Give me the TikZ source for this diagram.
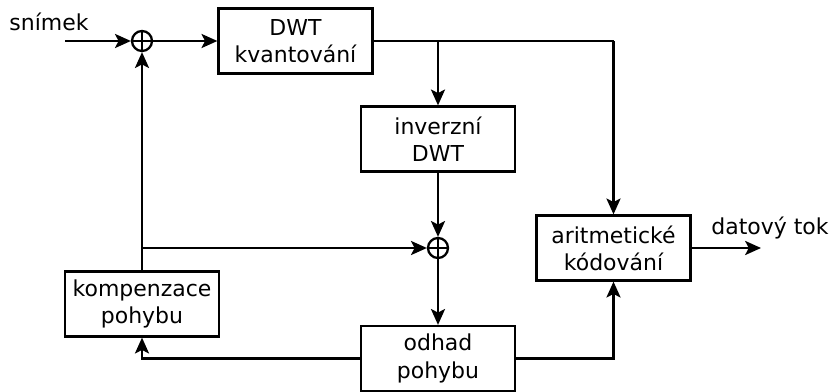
\documentclass[tikz,border=0pt]{standalone}
\usepackage{fontspec}
\setmainfont{DejaVu Sans}
\usetikzlibrary{arrows.meta}

\begin{document}
\begin{tikzpicture}[line width=1.3pt, >={Stealth[length=9pt,width=8pt,inset=2pt]},
  every node/.style={font=\fontsize{12.5}{15.5}\selectfont},
  blok/.style={draw, minimum width=3.08cm, minimum height=1.3cm, align=center},
  suma/.style={draw, circle, minimum size=0.4cm, inner sep=0pt}]
  \useasboundingbox (0,0) rectangle (16.66,7.82);
  % bloky
  \node[blok] (dwt) at (5.91,7.0) {DWT\\kvantování};
  \node[blok] (inv) at (8.76,5.04) {inverzní\\DWT};
  \node[blok] (arit) at (12.27,2.86) {aritmetické\\kódování};
  \node[blok] (komp) at (2.84,1.74) {kompenzace\\pohybu};
  \node[blok] (odhad) at (8.76,0.65) {odhad\\pohybu};

  % scitacky
  \node[suma] (s1) at (2.84,7.0) {};
  \node[suma] (s2) at (8.76,2.86) {};
  \draw[line width=0.8pt] (s1.north) -- (s1.south) (s1.west) -- (s1.east);
  \draw[line width=0.8pt] (s2.north) -- (s2.south) (s2.west) -- (s2.east);

  % popisky
  \node (snimek) at (0.98,7.38) {snímek};
  \node (tok) at (15.4,3.26) {datový tok};

  \coordinate (vstup) at (1.3,7.0);
  \coordinate (vystup) at (15.22,2.86);
  \coordinate (r1) at (8.76,7.0);
  \coordinate (r2) at (12.27,7.0);
  \coordinate (r3) at (2.84,2.86);

  \draw[->] (vstup) -- (s1);
  \draw[->] (s1) -- (dwt);
  \draw (dwt) -- (r2);
  \draw[->] (r1) -- (inv);
  \draw[->] (r2) -- (arit);
  \draw[->] (inv) -- (s2);
  \draw[->] (s2) -- (odhad);
  \draw[->] (r3) -- (s2);
  \draw[->] (komp) -- (s1);
  \draw[->] (odhad) -| (komp);
  \draw[->] (odhad) -| (arit);
  \draw[->] (arit) -- (vystup);
\end{tikzpicture}
\end{document}
